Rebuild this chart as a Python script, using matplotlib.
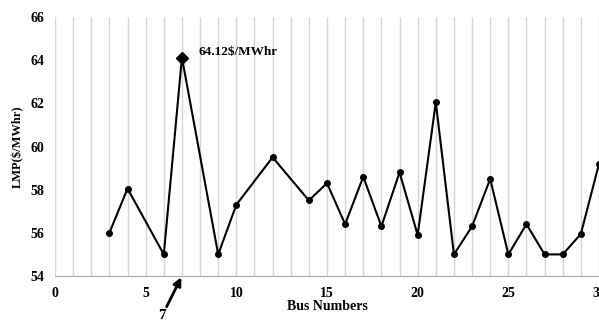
import matplotlib
matplotlib.use('Agg')
import matplotlib.pyplot as plt

bus = [3, 4, 6, 7, 9, 10, 12, 14, 15, 16, 17, 18, 19, 20, 21, 22, 23, 24, 25, 26, 27, 28, 29, 30]
lmp = [56.0, 58.05, 55.0, 64.12, 55.0, 57.3, 59.5, 57.5, 58.3, 56.4, 58.6, 56.3, 58.8, 55.9,
       62.05, 55.0, 56.3, 58.5, 55.0, 56.4, 55.0, 55.0, 55.95, 59.2]
peak_bus = 7
peak_label = '64.12$/MWhr'

plt.rcParams['font.family'] = ['Liberation Serif', 'DejaVu Serif']
plt.rcParams['font.weight'] = 'bold'

fig = plt.figure(figsize=(5.99, 3.2), dpi=100)
ax = fig.add_axes([55 / 599, 44 / 320, 544 / 599, 259 / 320])

ax.plot(bus, lmp, color='black', lw=1.5, marker='o', ms=4, zorder=3, clip_on=False)
i = bus.index(peak_bus)
ax.plot(bus[i], lmp[i], marker='D', ms=6, color='black', zorder=4)
ax.text(bus[i] + 0.9, lmp[i], peak_label, fontsize=9.5, fontweight='bold', va='bottom', ha='left')

ax.set_xlim(0, 30)
ax.set_ylim(54, 66)
ax.set_xticks(range(0, 31, 5))
ax.set_yticks(range(54, 67, 2))
ax.set_xticks(range(0, 31), minor=True)
ax.grid(True, which='both', axis='x', color='#d4d4d4', lw=1)
ax.tick_params(length=0, which='both', labelsize=10, pad=8)
for lab in ax.get_xticklabels() + ax.get_yticklabels():
    lab.set_fontweight('bold')

for s in ['top', 'right', 'left']:
    ax.spines[s].set_visible(False)
ax.spines['bottom'].set_color('#a8a8a8')

ax.set_xlabel('Bus Numbers', fontsize=10, fontweight='bold', labelpad=0)
ax.set_ylabel('LMP($/MWhr)', fontsize=9, fontweight='bold', labelpad=4)

ax.annotate(str(peak_bus), xy=(peak_bus, 54), xytext=(5.9, 52.15),
            fontsize=11, fontweight='bold', ha='center', va='center', annotation_clip=False,
            arrowprops=dict(arrowstyle='-|>', color='black', lw=2, mutation_scale=12, shrinkA=0, shrinkB=1))

fig.savefig('out.png', dpi=100)
